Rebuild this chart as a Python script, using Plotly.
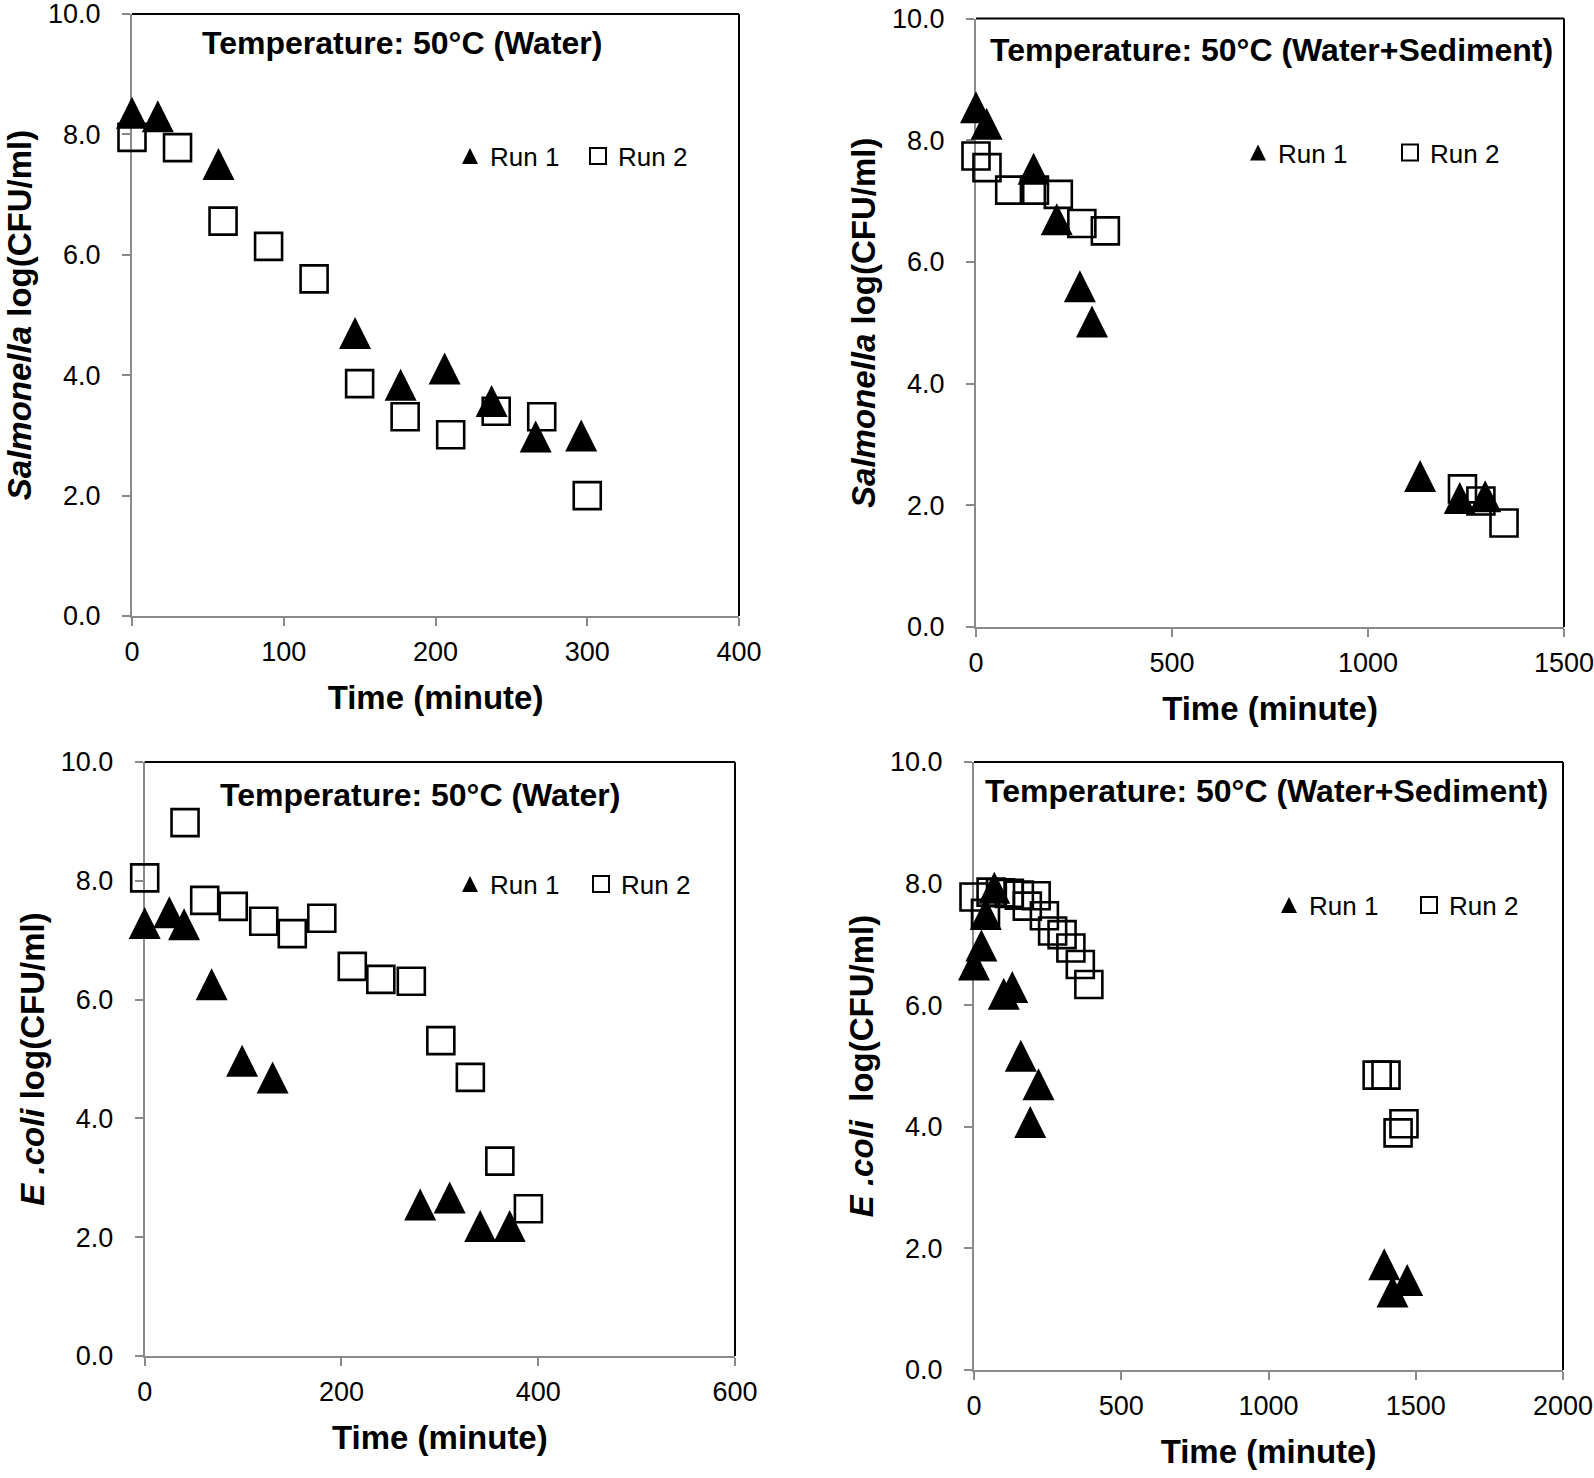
import plotly.graph_objects as go

W, H = 1594, 1478

# ---------------- data ----------------
# Salmonella, water
sal_w_run1_t = [0, 17, 57, 147, 177, 206, 237, 266, 296]
sal_w_run1_y = [8.36, 8.30, 7.51, 4.70, 3.84, 4.11, 3.57, 2.98, 3.00]
sal_w_run2_t = [0, 30, 60, 90, 120, 150, 180, 210, 240, 270, 300]
sal_w_run2_y = [7.95, 7.78, 6.56, 6.14, 5.60, 3.86, 3.31, 3.01, 3.40, 3.31, 2.00]

# Salmonella, water + sediment
sal_s_run1_t = [0, 27, 147, 206, 265, 296, 1133, 1234, 1299]
sal_s_run1_y = [8.54, 8.27, 7.53, 6.70, 5.60, 5.02, 2.48, 2.12, 2.15]
sal_s_run2_t = [0, 28, 86, 149, 210, 270, 330, 1241, 1288, 1347]
sal_s_run2_y = [7.74, 7.55, 7.18, 7.18, 7.11, 6.63, 6.51, 2.27, 2.07, 1.71]

# E. coli, water
eco_w_run1_t = [0, 25, 40, 68, 99, 130, 280, 310, 341, 371]
eco_w_run1_y = [7.29, 7.47, 7.27, 6.26, 4.97, 4.69, 2.55, 2.67, 2.19, 2.19]
eco_w_run2_t = [0, 41, 61, 90, 121, 150, 180, 211, 240, 271, 301, 331, 361, 390]
eco_w_run2_y = [8.05, 8.98, 7.67, 7.57, 7.32, 7.11, 7.37, 6.56, 6.34, 6.31, 5.31, 4.69, 3.28, 2.48]

# E. coli, water + sediment
eco_s_run1_t = [0, 25, 40, 69, 101, 130, 159, 191, 219, 1393, 1421, 1471]
eco_s_run1_y = [6.67, 6.98, 7.50, 7.93, 6.19, 6.30, 5.17, 4.08, 4.70, 1.74, 1.29, 1.48]
eco_s_run2_t = [0, 39, 58, 90, 120, 154, 181, 211, 239, 267, 299, 329, 361, 390,
                1369, 1399, 1440, 1460]
eco_s_run2_y = [7.78, 7.51, 7.86, 7.85, 7.84, 7.81, 7.63, 7.80, 7.47, 7.22, 7.16, 6.94, 6.67, 6.34,
                4.85, 4.85, 3.90, 4.05]

titles = ["Temperature: 50°C (Water)", "Temperature: 50°C (Water+Sediment)",
          "Temperature: 50°C (Water)", "Temperature: 50°C (Water+Sediment)"]
ytitles = ["<b><i>Salmonella</i> log(CFU/ml)</b>", "<b><i>Salmonella</i> log(CFU/ml)</b>",
           "<b><i>E .coli</i> log(CFU/ml)</b>", "<b><i>E .coli</i>  log(CFU/ml)</b>"]
xtitle = "<b>Time (minute)</b>"
series_names = ["Run 1", "Run 2"]
x_max = [400, 1500, 600, 2000]
x_dtick = [100, 500, 200, 500]

panels = [
    (sal_w_run1_t, sal_w_run1_y, sal_w_run2_t, sal_w_run2_y),
    (sal_s_run1_t, sal_s_run1_y, sal_s_run2_t, sal_s_run2_y),
    (eco_w_run1_t, eco_w_run1_y, eco_w_run2_t, eco_w_run2_y),
    (eco_s_run1_t, eco_s_run1_y, eco_s_run2_t, eco_s_run2_y),
]

# ---------------- layout geometry (pixels) ----------------
boxes = [  # left, right, top, bottom
    (132, 739, 14, 616),
    (976, 1564, 18.5, 627),
    (144.7, 735, 762, 1356),
    (974, 1563, 762, 1370),
]
title_pos = [(0.444, 0.952), (0.503, 0.949), (0.467, 0.944), (0.496, 0.952)]
legend_pos = [(450, 156), (1238, 152.5), (450, 884), (1269, 905)]
legend_entry = [83, 107, 86, 95]

FONT = "Liberation Sans, Arial, Helvetica, sans-serif"
AXIS_GRAY = "#8a8a8a"


def fx(px):
    return px / W


def fy(py):
    return 1 - py / H


fig = go.Figure()
layout = dict(
    template="none",
    width=W, height=H, margin=dict(l=0, r=0, t=0, b=0, autoexpand=False),
    paper_bgcolor="white", plot_bgcolor="white",
    font=dict(family=FONT, color="black", size=26),
    shapes=[], annotations=[],
)

for i, (t1, y1, t2, y2) in enumerate(panels):
    n = "" if i == 0 else str(i + 1)
    xa, ya = "x" + n, "y" + n
    lg = "legend" + n
    # data markers (triangle centred on the point: arrow flipped + standoff)
    fig.add_trace(go.Scatter(
        x=t1, y=y1, mode="markers", name=series_names[0], xaxis=xa, yaxis=ya,
        showlegend=False, cliponaxis=False,
        marker=dict(symbol="arrow-down", angle=180, size=32, standoff=16,
                    color="black", line=dict(width=0)),
    ))
    fig.add_trace(go.Scatter(
        x=t2, y=y2, mode="markers", name=series_names[1], xaxis=xa, yaxis=ya,
        showlegend=False, cliponaxis=False,
        marker=dict(symbol="square-open", size=27, color="black",
                    line=dict(width=2.6, color="black")),
    ))
    # legend entries
    fig.add_trace(go.Scatter(
        x=[None], y=[None], mode="markers", name=series_names[0], xaxis=xa, yaxis=ya,
        legend=lg, marker=dict(symbol="arrow-up", size=16, standoff=8, color="black"),
    ))
    fig.add_trace(go.Scatter(
        x=[None], y=[None], mode="markers", name=series_names[1], xaxis=xa, yaxis=ya,
        legend=lg, marker=dict(symbol="square-open", size=18, color="black",
                               line=dict(width=2, color="black")),
    ))
    l, r, t, b = boxes[i]
    axis_common = dict(
        showgrid=False, zeroline=False, showline=True, linecolor=AXIS_GRAY,
        linewidth=2, ticks="outside", ticklen=8, tickwidth=2, tickcolor=AXIS_GRAY,
        tickfont=dict(size=27, family=FONT, color="black"), layer="below traces",
        automargin=False, ticklabeloverflow="allow",
    )
    layout["xaxis" + n] = dict(
        axis_common, domain=[fx(l), fx(r)], anchor=ya, range=[0, x_max[i]],
        dtick=x_dtick[i], tick0=0, ticklabelstandoff=3,
        title=dict(text=xtitle, font=dict(size=33, family=FONT), standoff=19),
    )
    layout["yaxis" + n] = dict(
        axis_common, domain=[fy(b), fy(t)], anchor=xa, range=[0, 10],
        dtick=2, tick0=0, tickformat=".1f", ticklabelstandoff=16,
        title=dict(text=ytitles[i], font=dict(size=33, family=FONT), standoff=6),
    )
    # black top/right frame of plot area
    layout["shapes"].append(dict(type="line", xref=xa + " domain", yref=ya + " domain",
                                 x0=0, x1=1, y0=1, y1=1, line=dict(color="black", width=2)))
    layout["shapes"].append(dict(type="line", xref=xa + " domain", yref=ya + " domain",
                                 x0=1, x1=1, y0=0, y1=1, line=dict(color="black", width=2)))
    tx, ty = title_pos[i]
    layout["annotations"].append(dict(
        text="<b>" + titles[i] + "</b>", xref=xa + " domain", yref=ya + " domain",
        x=tx, y=ty, xanchor="center", yanchor="middle", showarrow=False,
        font=dict(size=32, family=FONT, color="black"),
    ))
    lx, ly = legend_pos[i]
    layout[lg] = dict(
        x=fx(lx), y=fy(ly), xanchor="left", yanchor="middle", orientation="h",
        bgcolor="rgba(0,0,0,0)", borderwidth=0, itemwidth=30,
        entrywidth=legend_entry[i], font=dict(size=26, family=FONT, color="black"),
    )

fig.update_layout(**layout)
# remove the browser's default 8px page margin so the figure fills the window
fig.write_html("out.html", config={"displayModeBar": False},
               post_script="document.body.style.margin='0';")
